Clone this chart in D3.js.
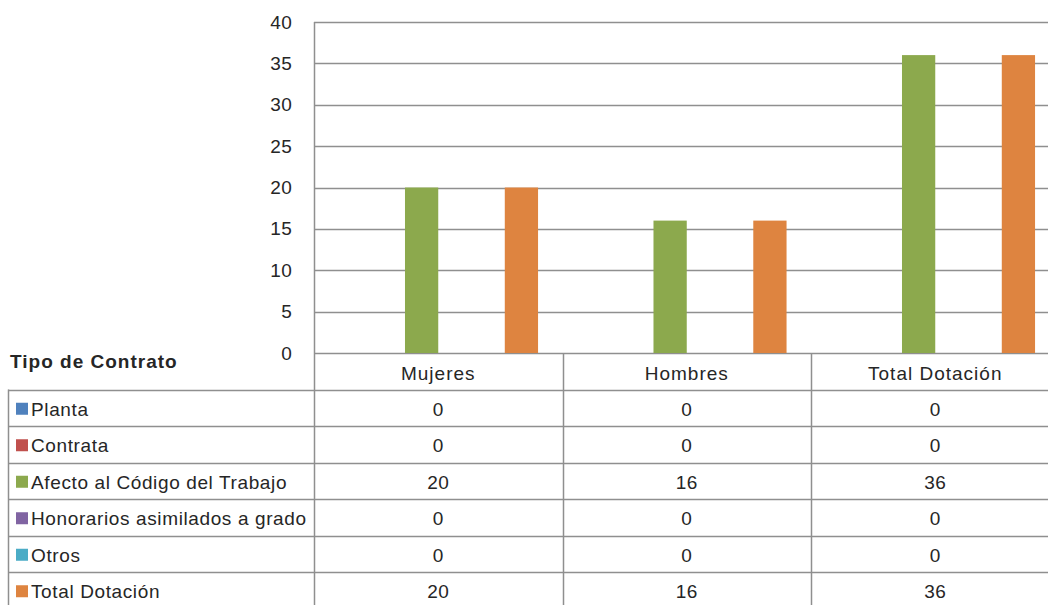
<!DOCTYPE html>
<html>
<head>
<meta charset="utf-8">
<script src="https://cdn.jsdelivr.net/npm/d3@7"></script>
<style>
  body { margin: 0; background: #fff; }
  text { font-family: "Liberation Sans", Arial, sans-serif; fill: #262626; }
</style>
</head>
<body>
<div id="chart"></div>
<script>
// categories, series and values
var categories = ["Mujeres", "Hombres", "Total Dotación"];
var seriesNames = ["Planta", "Contrata", "Afecto al Código del Trabajo", "Honorarios asimilados a grado", "Otros", "Total Dotación"];
var seriesColors = ["#4F81BD", "#C0504D", "#8CA94D", "#8064A2", "#4BACC6", "#DE8440"];
var planta = [0, 0, 0];
var contrata = [0, 0, 0];
var afecto = [20, 16, 36];
var honorarios = [0, 0, 0];
var otros = [0, 0, 0];
var totalDotacion = [20, 16, 36];
var yTicks = [0, 5, 10, 15, 20, 25, 30, 35, 40];

var seriesValues = [planta, contrata, afecto, honorarios, otros, totalDotacion];

var svgWidth = 1048;
var svgHeight = 605;
var plotLeft = 314;
var plotTop = 22;
var plotBottom = 353;
var bandW = 248.5;
var rowH = 36.5;
var tableLeft = 8;
var gridColor = "#8f8f8f";

var svg = d3.select("#chart")
    .append("svg")
    .attr("width", svgWidth)
    .attr("height", svgHeight);

var yScale = d3.scaleLinear()
    .domain([0, 40])
    .range([plotBottom, plotTop]);

var x0 = d3.scaleBand()
    .domain(categories)
    .range([plotLeft, plotLeft + bandW * categories.length])
    .padding(0);

var x1 = d3.scaleBand()
    .domain(seriesNames)
    .range([0, bandW])
    .paddingInner(0)
    .paddingOuter(0.735);

// gridlines
svg.append("g").selectAll("line")
    .data(yTicks)
    .enter()
    .append("line")
    .attr("x1", plotLeft)
    .attr("x2", svgWidth)
    .attr("y1", d => Math.round(yScale(d)) + 0.5)
    .attr("y2", d => Math.round(yScale(d)) + 0.5)
    .attr("stroke", gridColor)
    .attr("stroke-width", 1.5);

// y axis labels
var yAxis = d3.axisLeft(yScale).tickValues(yTicks).tickSize(0).tickPadding(22);
var yAxisG = svg.append("g")
    .attr("transform", `translate(${plotLeft},0)`)
    .call(yAxis);
yAxisG.select(".domain").remove();
yAxisG.selectAll("text")
    .style("font-family", "'Liberation Sans', Arial, sans-serif")
    .style("font-size", "19px")
    .style("letter-spacing", "0.3px")
    .attr("fill", "#262626");

// bars
var groups = svg.append("g").selectAll("g")
    .data(categories)
    .enter()
    .append("g")
    .attr("transform", d => `translate(${x0(d)},0)`);

groups.selectAll("rect")
    .data((c, ci) => seriesNames.map((s, si) => ({ s: s, si: si, v: seriesValues[si][ci] })))
    .enter()
    .append("rect")
    .attr("x", d => x1(d.s))
    .attr("width", x1.bandwidth())
    .attr("y", d => yScale(d.v))
    .attr("height", d => plotBottom - yScale(d.v))
    .attr("fill", d => seriesColors[d.si]);

// data table
var table = svg.append("g");

// vertical lines: plot left edge and category separators
[plotLeft].concat(categories.slice(1).map(c => x0(c))).forEach(function(x) {
    table.append("line")
        .attr("x1", Math.round(x) + 0.5).attr("x2", Math.round(x) + 0.5)
        .attr("y1", x === plotLeft ? plotTop : plotBottom)
        .attr("y2", svgHeight)
        .attr("stroke", gridColor)
        .attr("stroke-width", 1.5);
});

// left border of legend column
table.append("line")
    .attr("x1", tableLeft + 0.5).attr("x2", tableLeft + 0.5)
    .attr("y1", plotBottom + rowH).attr("y2", svgHeight)
    .attr("stroke", gridColor)
    .attr("stroke-width", 1.5);

// row lines
table.selectAll("line.row")
    .data(seriesNames)
    .enter()
    .append("line")
    .attr("class", "row")
    .attr("x1", tableLeft)
    .attr("x2", svgWidth)
    .attr("y1", (d, i) => Math.round(plotBottom + rowH * (i + 1)) + 0.5)
    .attr("y2", (d, i) => Math.round(plotBottom + rowH * (i + 1)) + 0.5)
    .attr("stroke", gridColor)
    .attr("stroke-width", 1.5);

// header
table.append("text")
    .attr("x", 10)
    .attr("y", plotBottom + 15)
    .style("font-size", "19px")
    .style("font-weight", "bold")
    .style("letter-spacing", "1px")
    .text("Tipo de Contrato");

table.selectAll("text.cat")
    .data(categories)
    .enter()
    .append("text")
    .attr("class", "cat")
    .attr("x", d => x0(d) + bandW / 2)
    .attr("y", plotBottom + rowH / 2 + 2)
    .attr("dy", "0.36em")
    .attr("text-anchor", "middle")
    .style("font-size", "19px")
    .style("letter-spacing", "1px")
    .text(d => d);

// legend rows
var rows = table.selectAll("g.rowg")
    .data(seriesNames)
    .enter()
    .append("g")
    .attr("class", "rowg")
    .attr("transform", (d, i) => `translate(0,${plotBottom + rowH * (i + 1)})`);

rows.append("rect")
    .attr("x", 16)
    .attr("y", rowH / 2 - 5)
    .attr("width", 12)
    .attr("height", 12)
    .attr("fill", (d, i) => seriesColors[i]);

rows.append("text")
    .attr("x", 31)
    .attr("y", rowH / 2 + 1)
    .attr("dy", "0.36em")
    .style("font-size", "19px")
    .style("letter-spacing", "0.62px")
    .text(d => d);

rows.each(function(s, si) {
    d3.select(this).selectAll("text.val")
        .data(categories)
        .enter()
        .append("text")
        .attr("class", "val")
        .attr("x", c => x0(c) + bandW / 2)
        .attr("y", rowH / 2 + 1)
        .attr("dy", "0.36em")
        .attr("text-anchor", "middle")
        .style("font-size", "19px")
        .style("letter-spacing", "0.5px")
        .text((c, ci) => seriesValues[si][ci]);
});
</script>
</body>
</html>
